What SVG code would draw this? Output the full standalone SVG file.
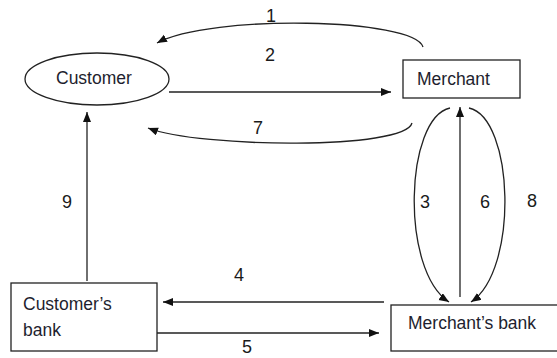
<svg xmlns="http://www.w3.org/2000/svg" width="557" height="358" viewBox="0 0 557 358">
<style>
.box{fill:#fff;stroke:#222;stroke-width:1.3}
.lbl{font-family:"Liberation Sans",Arial,sans-serif;font-size:17.5px;fill:#1e1e2e}
.num{font-family:"Liberation Sans",Arial,sans-serif;font-size:18px;fill:#1a1a1a;text-anchor:middle}
.c{fill:none;stroke:#222;stroke-width:1.3}
</style>
<defs>
<marker id="ah" markerUnits="userSpaceOnUse" markerWidth="12" markerHeight="10" refX="10" refY="4" orient="auto">
<path d="M0,0 L10,4 L0,8 Z" fill="#111"/>
</marker>
</defs>
<rect width="557" height="358" fill="#fff"/>
<g id="connectors">
<path class="c" d="M423,47 C415,18 210,14 157,43" marker-end="url(#ah)"/>
<path class="c" d="M169,92 L391,92" marker-end="url(#ah)"/>
<path class="c" d="M412,123 C405,150 200,148 148,128" marker-end="url(#ah)"/>
<path class="c" d="M450,108 C405,118 400,270 449,302" marker-end="url(#ah)"/>
<path class="c" d="M460,297 L460,107" marker-end="url(#ah)"/>
<path class="c" d="M469,108 C514,118 519,270 471,302" marker-end="url(#ah)"/>
<path class="c" d="M384,302 L163,302" marker-end="url(#ah)"/>
<path class="c" d="M157,333 L379,333" marker-end="url(#ah)"/>
<path class="c" d="M87,281 L87,112" marker-end="url(#ah)"/>
<text class="num" x="271" y="22">1</text>
<text class="num" x="270" y="61">2</text>
<text class="num" x="425" y="208">3</text>
<text class="num" x="239" y="281">4</text>
<text class="num" x="247" y="353">5</text>
<text class="num" x="485" y="208">6</text>
<text class="num" x="258" y="134">7</text>
<text class="num" x="532" y="207">8</text>
<text class="num" x="67" y="208">9</text>
</g>
<g id="customer">
<ellipse class="box" cx="97" cy="79" rx="72" ry="26"/>
<text class="lbl" x="56" y="84">Customer</text>
</g>
<g id="merchant">
<rect class="box" x="403" y="60" width="117" height="38"/>
<text class="lbl" x="417" y="85">Merchant</text>
</g>
<g id="customers-bank">
<rect class="box" x="11" y="283" width="146" height="68"/>
<text class="lbl" x="23" y="310">Customer’s</text>
<text class="lbl" x="23" y="336">bank</text>
</g>
<g id="merchants-bank">
<rect class="box" x="391" y="305" width="170" height="46"/>
<text class="lbl" x="408" y="329">Merchant’s bank</text>
</g>
</svg>
